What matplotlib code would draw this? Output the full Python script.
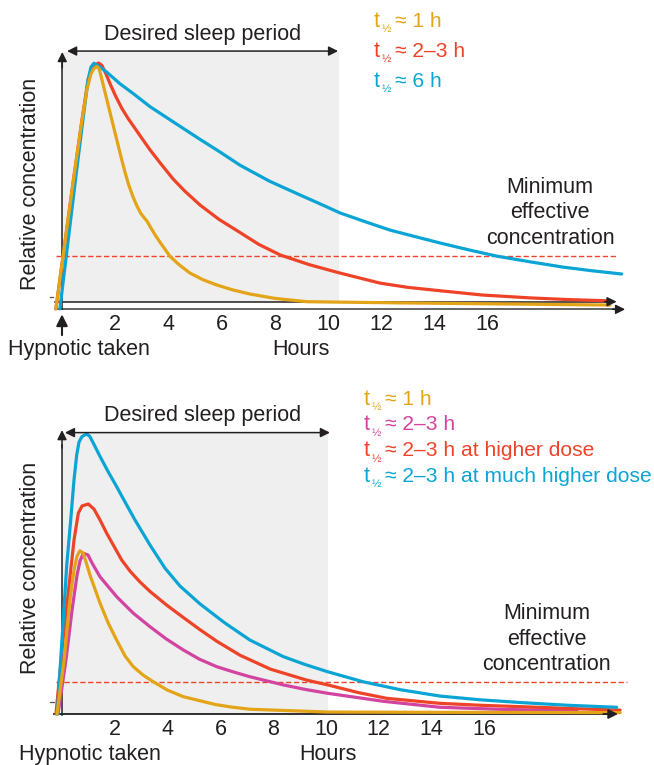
import matplotlib
matplotlib.use("Agg")
import matplotlib.pyplot as plt
from matplotlib.patches import Rectangle

plt.rcParams["font.family"] = ["Liberation Sans", "DejaVu Sans"]

GOLD = "#e3a417"
RED = "#ef4328"
BLUE = "#0aa5d5"
MAGENTA = "#d2449f"
INK = "#231f20"
SHADE = "#efefef"
FS = 15.5

TICKS = [2, 4, 6, 8, 10, 12, 14, 16]

# ---------- panel 1 data (hours, relative concentration) ----------
p1_1h_t = [-0.23, 0.43, 0.75, 0.94, 1.09, 1.2, 1.31, 1.40, 1.49, 1.6, 1.8, 2.0, 2.2,
           2.35, 2.5, 2.65, 2.8, 2.95, 3.1, 3.2, 3.31, 3.5, 3.68, 4.06, 4.4, 4.81, 5.3,
           5.82, 6.4, 7.07, 8.0, 9.2, 12.7, 20.6]
p1_1h_c = [-0.03, 0.51, 0.76, 0.89, 0.955, 0.977, 0.985, 0.975, 0.935, 0.885, 0.795, 0.705,
           0.615, 0.55, 0.492, 0.445, 0.405, 0.372, 0.35, 0.337, 0.315, 0.28, 0.25, 0.19,
           0.155, 0.12, 0.092, 0.07, 0.05, 0.032, 0.014, 0.0, -0.005, -0.014]

p1_23h_t = [-0.23, 0.43, 0.75, 0.98, 1.17, 1.37, 1.5, 1.65, 1.8, 2.0, 2.25, 2.5, 2.67, 3.0,
            3.31, 3.7, 4.17, 4.6, 5.19, 5.9, 6.69, 7.4, 8.2, 9.3, 10.45, 11.95, 13.0, 14.21,
            15.8, 17.59, 19.0, 20.48]
p1_23h_c = [-0.03, 0.51, 0.76, 0.93, 0.987, 1.0, 0.99, 0.955, 0.915, 0.865, 0.81, 0.765, 0.738,
            0.685, 0.636, 0.58, 0.515, 0.465, 0.405, 0.345, 0.29, 0.24, 0.196, 0.155, 0.12,
            0.078, 0.06, 0.046, 0.028, 0.016, 0.009, 0.004]

p1_6h_t = [-0.08, 0.55, 0.83, 0.98, 1.09, 1.2, 1.43, 1.7, 2.18, 2.7, 3.31, 4.2, 5.19, 5.9,
           6.69, 7.8, 8.95, 9.7, 10.45, 11.4, 12.33, 13.3, 14.21, 15.3, 16.34, 17.6, 18.83,
           19.9, 21.04]
p1_6h_c = [-0.03, 0.55, 0.80, 0.93, 0.983, 0.999, 0.983, 0.96, 0.913, 0.87, 0.817, 0.752, 0.68,
           0.63, 0.572, 0.505, 0.447, 0.41, 0.372, 0.335, 0.30, 0.272, 0.246, 0.217, 0.191,
           0.167, 0.145, 0.13, 0.116]

p1_labels = ["≈ 1 h", "≈ 2–3 h", "≈ 6 h"]
p1_colors = [GOLD, RED, BLUE]
p1_min_eff = 0.191

# ---------- panel 2 data ----------
p2_1h_t = [-0.19, 0.08, 0.30, 0.455, 0.57, 0.68, 0.795, 0.91, 1.06, 1.44, 1.75, 2.07, 2.39,
           2.70, 3.07, 3.46, 4.0, 4.59, 5.80, 6.4, 7.12, 10.06, 14.32, 21.14]
p2_1h_c = [0.0, 0.193, 0.407, 0.514, 0.564, 0.583, 0.575, 0.543, 0.496, 0.396, 0.325, 0.264,
           0.207, 0.169, 0.139, 0.115, 0.085, 0.062, 0.034, 0.025, 0.017, 0.007, 0.006, 0.005]

p2_23h_t = [-0.15, 0.15, 0.38, 0.57, 0.68, 0.807, 0.985, 1.14, 1.44, 2.07, 2.7, 3.33, 3.95,
            4.59, 5.2, 5.86, 6.5, 7.12, 8.38, 9.2, 10.06, 12.2, 14.32, 16.8, 19.5]
p2_23h_c = [0.0, 0.193, 0.371, 0.496, 0.546, 0.574, 0.568, 0.539, 0.49, 0.419, 0.36, 0.312,
            0.268, 0.229, 0.196, 0.169, 0.15, 0.133, 0.104, 0.088, 0.074, 0.045, 0.024, 0.016,
            0.012]

p2_high_t = [-0.23, 0.04, 0.33, 0.455, 0.617, 0.758, 0.996, 1.21, 1.44, 1.69, 2.26, 2.58,
             2.95, 3.33, 3.95, 4.59, 5.2, 5.86, 6.74, 7.9, 9.27, 10.06, 11.2, 12.3, 14.32,
             15.9, 17.73, 19.4, 21.14]
p2_high_c = [0.0, 0.264, 0.514, 0.621, 0.717, 0.743, 0.75, 0.732, 0.693, 0.646, 0.55, 0.51,
             0.472, 0.438, 0.39, 0.345, 0.303, 0.26, 0.21, 0.16, 0.121, 0.104, 0.077, 0.056,
             0.038, 0.031, 0.025, 0.019, 0.014]

p2_much_t = [-0.18, 0.18, 0.33, 0.455, 0.557, 0.644, 0.758, 0.936, 1.05, 1.2, 1.44, 1.75,
             2.07, 2.4, 2.765, 3.33, 3.90, 4.47, 5.23, 6.17, 7.12, 8.38, 9.2, 10.06, 11.41,
             12.8, 14.32, 15.8, 17.35, 19.2, 21.01]
p2_much_c = [0.0, 0.532, 0.693, 0.836, 0.925, 0.971, 0.991, 1.0, 0.992, 0.965, 0.92, 0.865,
             0.812, 0.755, 0.693, 0.604, 0.521, 0.457, 0.393, 0.325, 0.264, 0.205, 0.177,
             0.151, 0.115, 0.087, 0.064, 0.051, 0.041, 0.031, 0.024]

p2_labels = ["≈ 1 h", "≈ 2–3 h", "≈ 2–3 h at higher dose", "≈ 2–3 h at much higher dose"]
p2_colors = [GOLD, MAGENTA, RED, BLUE]
p2_min_eff = 0.116


W, H = 654, 765
fig = plt.figure(figsize=(W / 100, H / 100), dpi=100)


def panel(top_px, bot_px, x0, xs, y0, ys):
    # axes spanning a horizontal strip of the figure, data units = hours / rel. conc.
    ax = fig.add_axes([0, 1 - bot_px / H, 1, (bot_px - top_px) / H])
    ax.set_xlim(-x0 / xs, (W - x0) / xs)
    ax.set_ylim((y0 - bot_px) / ys, (y0 - top_px) / ys)
    ax.axis("off")
    return ax


def arrow(ax, start, end, style="-|>", color=INK, lw=1.1, scale=14):
    ax.annotate("", xy=end, xytext=start,
                arrowprops=dict(arrowstyle=style, color=color, lw=lw,
                                mutation_scale=scale, shrinkA=0, shrinkB=0))


def legend_line(ax, x, y, color, rest):
    ax.text(x, y, "t", color=color, fontsize=FS, va="baseline")
    ax.annotate("½", (x, y), xytext=(5.8, -4.0), textcoords="offset points",
                fontsize=8, color=color, va="baseline")
    ax.annotate(rest, (x, y), xytext=(15.4, 0), textcoords="offset points",
                fontsize=15.1, color=color, va="baseline")


# ---------- panel 1 ----------
ax = panel(0, 370, 62, 26.6, 301.7, 238.7)
ax.add_patch(Rectangle((0, 0), 10.41, 1.045, facecolor=SHADE, edgecolor="none", zorder=0))
ax.plot([-0.26, 20.6], [0, 0], color=INK, lw=1.1)
arrow(ax, (20.4, 0), (20.85, 0))
ax.plot([-0.26, 20.9], [-0.032, -0.032], color="#3a3a3a", lw=1.1)
arrow(ax, (20.7, -0.032), (21.17, -0.032))
ax.plot([0.01, 0.01], [-0.032, 1.0], color=INK, lw=1.1)
arrow(ax, (0.01, 0.98), (0.01, 1.046))
ax.plot([-0.45, -0.32], [0.021, 0.021], color="#555555", lw=0.9)
arrow(ax, (0.19, 1.05), (10.38, 1.05), style="<|-|>")
arrow(ax, (0.0, -0.14), (0.0, -0.053), lw=1.5, scale=17)
ax.plot([-0.23, 20.86], [p1_min_eff, p1_min_eff], color=RED, lw=1.0,
        linestyle=(0, (3.8, 1.9)))
for t, c, col in [(p1_23h_t, p1_23h_c, RED), (p1_6h_t, p1_6h_c, BLUE),
                  (p1_1h_t, p1_1h_c, GOLD)]:
    ax.plot(t, c, color=col, lw=2.3, solid_joinstyle="round", solid_capstyle="round")
for h in TICKS:
    ax.text(h, -0.118, str(h), ha="center", va="baseline", fontsize=FS, color=INK)
ax.text(8.98, -0.224, "Hours", ha="center", va="baseline", fontsize=FS, color=INK)
ax.text(0.64, -0.224, "Hypnotic taken", ha="center", va="baseline", fontsize=FS, color=INK)
ax.text(5.3, 1.096, "Desired sleep period", ha="center", va="baseline", fontsize=FS, color=INK)
ax.text(-1.18, 0.495, "Relative concentration", rotation=90, ha="center", va="center",
        fontsize=FS, color=INK)
for line, c in zip(["Minimum", "effective", "concentration"], [0.454, 0.35, 0.24]):
    ax.text(18.35, c, line, ha="center", va="baseline", fontsize=FS, color=INK)
for lab, col, c in zip(p1_labels, p1_colors, [1.151, 1.025, 0.9]):
    legend_line(ax, 11.72, c, col, lab)

# ---------- panel 2 ----------
ax = panel(380, 765, 62, 26.4, 714, 280)
ax.add_patch(Rectangle((0, 0), 10.06, 1.005, facecolor=SHADE, edgecolor="none", zorder=0))
ax.plot([-0.3, 20.7], [0, 0], color=INK, lw=1.3)
arrow(ax, (20.5, 0), (21.06, 0), lw=1.3)
ax.plot([0, 0], [-0.005, 0.96], color=INK, lw=1.1)
arrow(ax, (0, 0.95), (0, 1.014))
ax.plot([-0.45, -0.3], [0.044, 0.044], color="#555555", lw=0.9)
arrow(ax, (0.11, 1.005), (10.15, 1.005), style="<|-|>")
ax.plot([-0.23, 21.39], [p2_min_eff, p2_min_eff], color=RED, lw=1.0,
        linestyle=(0, (3.8, 1.9)))
for t, c, col in [(p2_23h_t, p2_23h_c, MAGENTA), (p2_high_t, p2_high_c, RED),
                  (p2_much_t, p2_much_c, BLUE), (p2_1h_t, p2_1h_c, GOLD)]:
    ax.plot(t, c, color=col, lw=2.3, solid_joinstyle="round", solid_capstyle="round")
for h in TICKS:
    ax.text(h, -0.075, str(h), ha="center", va="baseline", fontsize=FS, color=INK)
ax.text(10.08, -0.164, "Hours", ha="center", va="baseline", fontsize=FS, color=INK)
ax.text(1.04, -0.164, "Hypnotic taken", ha="center", va="baseline", fontsize=FS, color=INK)
ax.text(5.34, 1.046, "Desired sleep period", ha="center", va="baseline", fontsize=FS, color=INK)
ax.text(-1.19, 0.52, "Relative concentration", rotation=90, ha="center", va="center",
        fontsize=FS, color=INK)
for line, c in zip(["Minimum", "effective", "concentration"], [0.338, 0.246, 0.157]):
    ax.text(18.36, c, line, ha="center", va="baseline", fontsize=FS, color=INK)
for lab, col, c in zip(p2_labels, p2_colors, [1.104, 1.014, 0.921, 0.829]):
    legend_line(ax, 11.44, c, col, lab)

fig.savefig("out.png", dpi=100)
